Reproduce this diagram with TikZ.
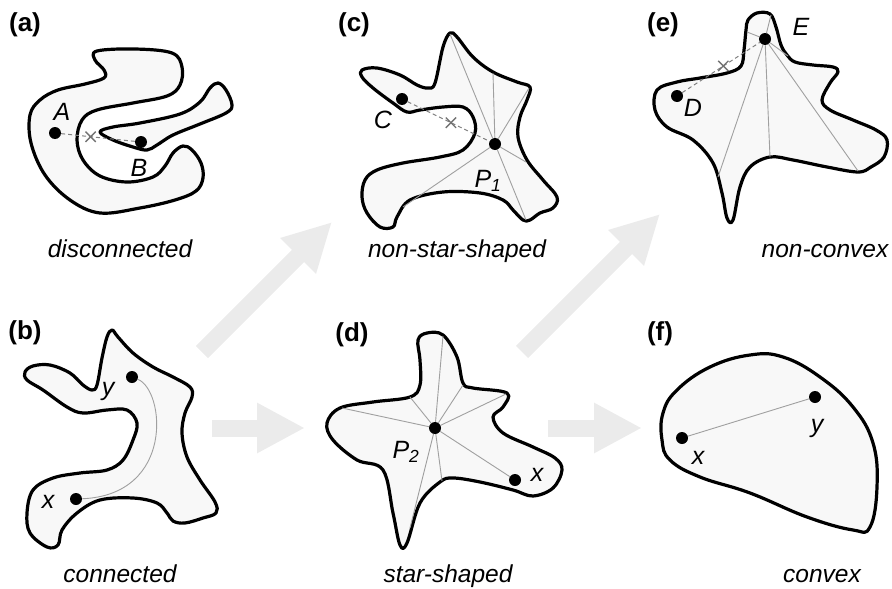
\documentclass[tikz,border=0pt]{standalone}
\usepackage{fontspec}
\setmainfont{Liberation Sans}
\usetikzlibrary{arrows.meta,shapes.misc}

\definecolor{blobfill}{HTML}{F8F8F8}
\definecolor{arrowgray}{HTML}{EBEBEB}
\definecolor{raygray}{HTML}{A0A0A0}

\begin{document}
\begin{tikzpicture}[x=1pt,y=-1pt,
  blob/.style={draw=black,line width=3.2pt,fill=blobfill,line join=round},
  dot/.style={circle,fill=black,inner sep=0pt,minimum size=12pt},
  ray/.style={raygray,line width=0.9pt},
  gap/.style={gray,dash pattern=on 4pt off 3pt,line width=1pt},
  xmark/.style={cross out,draw=gray!90!black,solid,line width=1.3pt,minimum size=9pt,inner sep=0pt},
  fat/.style={arrowgray,line width=17pt,-{Triangle[length=48pt,width=47pt]}},
  tag/.style={font=\fontsize{26}{28}\selectfont\bfseries},
  capt/.style={font=\fontsize{24.5}{26}\selectfont\itshape,anchor=base},
  lbl/.style={font=\fontsize{25}{26}\selectfont\itshape}]

  \useasboundingbox (0,0) rectangle (892,589);

  % big gray arrows between the panels
  \coordinate (bc0) at (202,352); \coordinate (bc1) at (332,222);
  \coordinate (bd0) at (212,428); \coordinate (bd1) at (305,428);
  \coordinate (de0) at (522,352); \coordinate (de1) at (660,214);
  \coordinate (df0) at (548,428); \coordinate (df1) at (642,428);
  \draw[fat] (bc0) -- (bc1);
  \draw[fat] (bd0) -- (bd1);
  \draw[fat] (de0) -- (de1);
  \draw[fat] (df0) -- (df1);

  % (a) disconnected
  \node[tag] (ta) at (25,25) {(a)};
  \draw[blob] plot[smooth cycle,tension=0.6] coordinates {(97,51) (135,49) (172,53)
    (182,67) (180,85) (167,96) (133,103) (97,110) (82,120) (77,140) (83,160) (100,176)
    (127,182) (153,177) (165,166) (173,153) (183,146) (192,150) (201,163) (203,178)
    (196,191) (175,200) (140,208) (100,213) (70,200) (45,175) (31,143) (30,115) (40,100)
    (58,90) (85,84) (104,78) (104,70) (95,60)};
  \draw[blob] plot[smooth cycle,tension=0.6] coordinates {(100,132) (113,127) (140,123)
    (180,114) (200,102) (210,88) (218,83) (226,90) (232,105) (226,113) (200,124)
    (173,135) (157,145) (147,150) (133,147) (113,140)};
  \node[dot] (A) at (55,133) {};
  \node[dot] (B) at (141,142) {};
  \draw[gap] (A) -- node[xmark,pos=0.4] (xAB) {} (B);
  \node[lbl] (lA) at (62,112) {A};
  \node[lbl] (lB) at (139,168) {B};
  \node[capt] (ca) at (120,257) {disconnected};

  % (b) connected
  \node[tag] (tb) at (25,333) {(b)};
  \draw[blob] plot[smooth cycle,tension=0.6] coordinates {(25,372) (33,366) (50,365)
    (70,373) (83,385) (92,390) (97,385) (102,358) (107,337) (112,330) (118,337)
    (133,353) (153,367) (173,377) (190,387) (192,397) (185,413) (182,433) (187,457)
    (200,480) (215,502) (216,513) (203,518) (185,523) (173,521) (167,513) (157,503)
    (133,498) (100,500) (77,513) (62,530) (58,545) (47,547) (30,533) (27,513) (33,490)
    (53,478) (80,473) (107,470) (123,460) (133,440) (137,423) (127,410) (107,410)
    (83,413) (67,407) (43,390) (27,380)};
  \node[dot] (yb) at (132,377) {};
  \node[dot] (xb) at (76,499) {};
  \draw[ray] (yb) .. controls (165,390) and (175,495) .. (xb);
  \node[lbl] (lyb) at (108,391) {y};
  \node[lbl] (lxb) at (48,502) {x};
  \node[capt] (cb) at (120,582) {connected};

  % (c) non-star-shaped
  \node[tag] (tc) at (354,25) {(c)};
  \draw[blob] plot[smooth cycle,tension=0.6] coordinates {(362,70) (377,68) (400,75)
    (417,85) (428,88) (435,83) (443,47) (450,33) (457,37) (473,57) (493,72) (517,82)
    (530,87) (527,100) (520,117) (518,137) (527,160) (543,180) (557,197) (553,208)
    (540,213) (530,220) (523,220) (513,210) (503,200) (480,193) (443,192) (410,200)
    (397,217) (393,227) (380,227) (367,213) (362,197) (365,180) (377,170) (403,163)
    (440,157) (463,150) (475,133) (473,117) (463,107) (443,107) (420,110) (407,112)
    (393,103) (373,88) (362,77)};
  \node[dot] (P1) at (495,144) {};
  \node[dot] (C) at (402,99) {};
  \foreach \px/\py [count=\i] in {450/34,493/73,529/88,526/162,526/220,403/207} {
    \coordinate (c\i) at (\px,\py);
    \draw[ray] (P1) -- (c\i);
  }
  \draw[gap] (C) -- node[xmark,pos=0.53] (xCP) {} (P1);
  \node[lbl] (lC) at (383,120) {C};
  \node[lbl] (lP1) at (488,181) {P\textsubscript{1}};
  \node[capt] (cc) at (457,257) {non-star-shaped};

  % (d) star-shaped
  \node[tag] (td) at (352,335) {(d)};
  \draw[blob] plot[smooth cycle,tension=0.6] coordinates {(418,340) (427,333) (443,335)
    (457,357) (463,383) (473,388) (507,393) (503,407) (493,417) (503,433) (533,447)
    (555,458) (562,470) (553,488) (533,496) (513,490) (480,482) (453,478) (440,482)
    (420,503) (407,543) (400,545) (393,513) (383,470) (357,460) (333,440) (327,423)
    (340,408) (373,402) (410,397) (420,385) (420,360)};
  \node[dot] (P2) at (435,428) {};
  \node[dot] (xd) at (515,480) {};
  \foreach \px/\py [count=\i] in {342/408,410/397,443/336,463/385,506/394,442/481,410/528} {
    \coordinate (d\i) at (\px,\py);
    \draw[ray] (P2) -- (d\i);
  }
  \draw[ray] (P2) -- (xd);
  \node[lbl] (lP2) at (406,452) {P\textsubscript{2}};
  \node[lbl] (lxd) at (537,475) {x};
  \node[capt] (cd) at (448,582) {star-shaped};

  % (e) non-convex
  \node[tag] (te) at (663,25) {(e)};
  \draw[blob] plot[smooth cycle,tension=0.6] coordinates {(748,20) (757,13) (770,14)
    (776,27) (781,45) (787,55) (795,62) (813,65) (833,67) (838,72) (830,83) (822,100)
    (830,110) (853,120) (876,130) (887,140) (884,157) (871,167) (858,172) (827,167)
    (793,160) (770,157) (750,167) (740,187) (733,220) (727,218) (722,193) (713,163)
    (693,140) (667,127) (655,110) (657,90) (677,82) (700,78) (727,73) (741,66) (744,50)
    (746,30)};
  \node[dot] (E) at (765,39) {};
  \node[dot] (D) at (677,96) {};
  \foreach \px/\py [count=\i] in {747/32,771/15,788/56,718/177,770/157,858/171} {
    \coordinate (e\i) at (\px,\py);
    \draw[ray] (E) -- (e\i);
  }
  \draw[gap] (D) -- node[xmark,pos=0.53] (xDE) {} (E);
  \node[lbl] (lD) at (693,108) {D};
  \node[lbl] (lE) at (801,27) {E};
  \node[capt] (ce) at (825,257) {non-convex};

  % (f) convex
  \node[tag] (tf) at (660,334) {(f)};
  \draw[blob] plot[smooth cycle,tension=0.7] coordinates {(663,413) (677,390) (710,367)
    (750,355) (783,357) (820,377) (853,407) (873,443) (877,487) (870,527) (853,530)
    (807,517) (750,493) (700,477) (670,460) (662,440)};
  \node[dot] (xf) at (682,438) {};
  \node[dot] (yf) at (815,397) {};
  \draw[ray] (xf) -- (yf);
  \node[lbl] (lxf) at (698,458) {x};
  \node[lbl] (lyf) at (817,428) {y};
  \node[capt] (cf) at (822,582) {convex};

\end{tikzpicture}
\end{document}
